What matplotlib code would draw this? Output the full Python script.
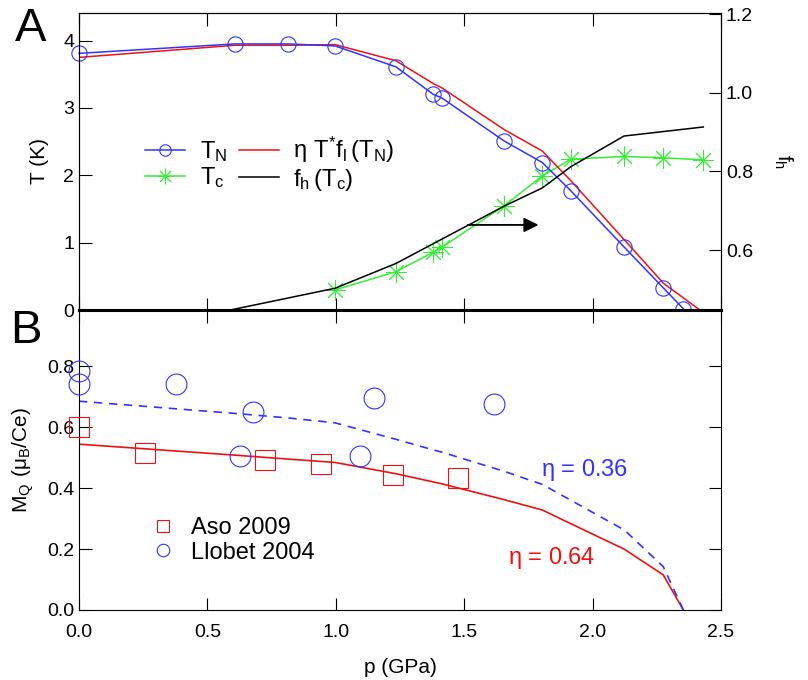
import matplotlib.pyplot as plt
import numpy as np

plt.rcParams['font.family'] = ['Liberation Sans', 'DejaVu Sans']
plt.rcParams['mathtext.default'] = 'regular'

# Panel A data
p_TN = [0.0, 0.607, 0.815, 0.997, 1.234, 1.38, 1.412, 1.655, 1.804, 1.915, 2.124, 2.275, 2.353]
T_N = [3.81, 3.95, 3.95, 3.92, 3.61, 3.20, 3.15, 2.51, 2.19, 1.77, 0.93, 0.33, 0.02]

p_eta = [0.0, 0.607, 0.815, 0.997, 1.234, 1.38, 1.412, 1.655, 1.804, 1.915, 2.124, 2.275, 2.418]
eta_T = [3.75, 3.93, 3.93, 3.94, 3.70, 3.36, 3.30, 2.68, 2.36, 1.92, 1.04, 0.40, 0.0]

p_Tc = [0.997, 1.234, 1.38, 1.412, 1.656, 1.804, 1.915, 2.122, 2.274, 2.431]
T_c = [0.30, 0.57, 0.86, 0.93, 1.55, 1.99, 2.24, 2.28, 2.26, 2.23]

p_fh = [0.588, 0.997, 1.234, 1.656, 1.804, 1.915, 2.122, 2.431]
f_h = [0.4475, 0.503, 0.566, 0.712, 0.758, 0.812, 0.890, 0.913]

# Panel B data
p_aso = [0.0, 0.257, 0.724, 0.941, 1.224, 1.475]
M_aso = [0.601, 0.514, 0.492, 0.478, 0.443, 0.432]

p_llo = [0.0, 0.0, 0.378, 0.676, 0.627, 1.094, 1.149, 1.616]
M_llo = [0.784, 0.743, 0.743, 0.648, 0.506, 0.506, 0.694, 0.675]

p_calc = [0.0, 0.607, 0.815, 0.997, 1.234, 1.38, 1.412, 1.655, 1.804, 1.915, 2.124, 2.275, 2.353]
M_064 = [0.544, 0.508, 0.495, 0.484, 0.447, 0.420, 0.414, 0.362, 0.328, 0.283, 0.199, 0.115, 0.0]
M_036 = [0.685, 0.645, 0.630, 0.614, 0.560, 0.525, 0.518, 0.455, 0.412, 0.360, 0.262, 0.142, 0.0]

blue = '#3333ff'
red = '#ee1111'
green = '#33ee33'

fig = plt.figure(figsize=(8.08, 6.8), dpi=100)
axA = fig.add_axes([0.0978, 0.544, 0.7946, 0.437])
axB = fig.add_axes([0.0978, 0.103, 0.7946, 0.441])
axA2 = axA.twinx()

# --- Panel A ---
axA.plot(p_TN, T_N, color=blue, lw=1.1, marker='o', ms=11, mfc='none', mec=blue,
         mew=0.8, label='$T_N$', clip_on=False, zorder=3)
axA.plot(p_Tc, T_c, color=green, lw=1.1, marker=(8, 2, 0), ms=15, mec=green,
         mew=0.7, label='$T_c$', clip_on=False)
axA.plot(p_eta, eta_T, color=red, lw=1.1, label=r'$\eta\ T^{*}f_l\,(T_N)$')
axA2.plot(p_fh, f_h, color='black', lw=1.1)
axA.plot([], [], color='black', lw=1.1, label='$f_h\,(T_c)$')
axA2.annotate('', xy=(1.80, 0.664), xytext=(1.503, 0.664),
              arrowprops=dict(arrowstyle='-|>', color='black', lw=1.3,
                              mutation_scale=22))

axA.set_xlim(0, 2.5)
axA.set_ylim(0, 4.41)
axA2.set_ylim(0.4475, 1.203)
axA.set_yticks([0, 1, 2, 3, 4])
axA.set_xticks([0, 0.5, 1.0, 1.5, 2.0, 2.5])
axA.set_xticklabels([])
axA2.set_yticks([0.6, 0.8, 1.0, 1.2])
axA2.set_yticklabels(['0.6', '0.8', '1.0', '1.2'])
axA.tick_params(direction='in', length=9, labelsize=14, top=True, right=False)
axA2.tick_params(direction='in', length=9, labelsize=14)
axA.set_ylabel('T (K)', fontsize=15, labelpad=10)
axA2.set_ylabel('$f_h$', fontsize=15, rotation=270, labelpad=30)
axA.spines['bottom'].set_linewidth(2.2)

handles, labels = axA.get_legend_handles_labels()
axA.legend(handles, labels, ncol=2,
           loc='upper left', bbox_to_anchor=(0.07, 0.66), frameon=False,
           fontsize=17, handlelength=1.7, handletextpad=0.6, columnspacing=0.5,
           labelspacing=0.05, markerscale=0.75)

# --- Panel B ---
axB.plot(p_aso, M_aso, ls='none', marker='s', ms=15, mfc='none', mec=red,
         mew=0.8, label='Aso 2009', clip_on=False, zorder=3)
axB.plot(p_llo, M_llo, ls='none', marker='o', ms=15, mfc='none', mec=blue,
         mew=0.8, label='Llobet 2004', clip_on=False, zorder=3)
axB.plot(p_calc, M_064, color=red, lw=1.2)
axB.plot(p_calc, M_036, color=blue, lw=1.2, ls=(0, (5, 4)))
axB.text(1.80, 0.46, r'$\eta$ = 0.36', color=blue, fontsize=17, va='center')
axB.text(1.67, 0.17, r'$\eta$ = 0.64', color=red, fontsize=17, va='center')

axB.set_xlim(0, 2.5)
axB.set_ylim(0, 0.984)
axB.set_xticks([0, 0.5, 1.0, 1.5, 2.0, 2.5])
axB.set_xticklabels(['0.0', '0.5', '1.0', '1.5', '2.0', '2.5'])
axB.set_yticks([0, 0.2, 0.4, 0.6, 0.8])
axB.set_yticklabels(['0.0', '0.2', '0.4', '0.6', '0.8'])
axB.tick_params(direction='in', length=9, labelsize=14, top=True, right=True)
axB.tick_params(axis='x', pad=10)
axB.set_xlabel('p (GPa)', fontsize=15, labelpad=12)
axB.set_ylabel(r'$M_Q\ (\mu_B/Ce)$', fontsize=15, labelpad=8)
axB.spines['top'].set_linewidth(2.2)
axB.legend(loc='upper left', bbox_to_anchor=(0.075, 0.38), frameon=False,
           fontsize=17, markerscale=0.6, handlelength=1.2, handletextpad=0.6,
           labelspacing=0.1)

fig.text(0.018, 0.99, 'A', fontsize=34, va='top')
fig.text(0.012, 0.545, 'B', fontsize=34, va='top')

fig.savefig('out.png', dpi=100)
